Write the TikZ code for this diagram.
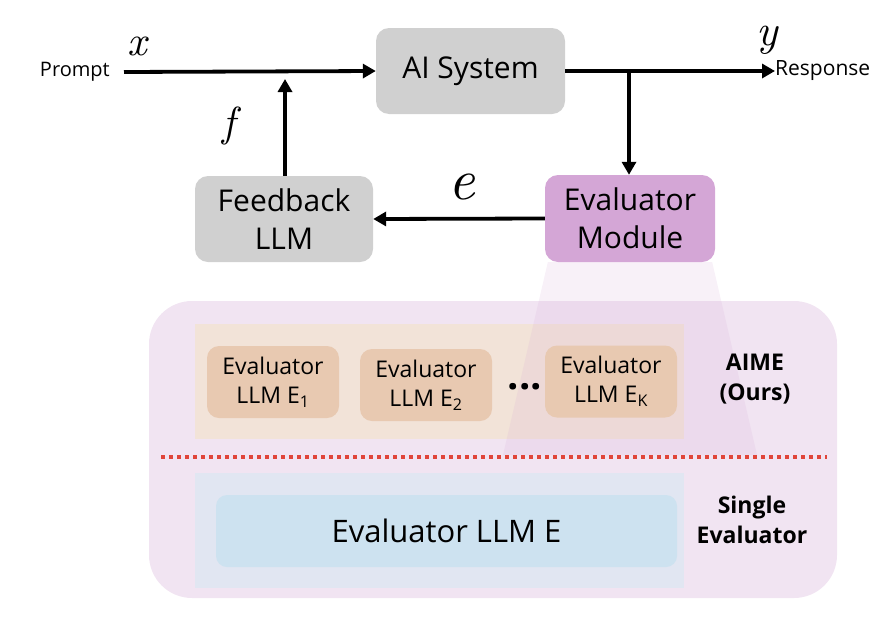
\documentclass[tikz,border=0pt]{standalone}
\usepackage{fontspec}
\setmainfont{Open Sans}
\newfontfamily\lmit{lmroman10-italic.otf}
\usetikzlibrary{arrows.meta}
\definecolor{boxgray}{HTML}{D0D0D0}
\definecolor{evalpurple}{HTML}{D4A6D6}
\definecolor{panelpink}{HTML}{F1E4F2}
\definecolor{aimeback}{HTML}{F2E3D8}
\definecolor{aimebox}{HTML}{E8C9B1}
\definecolor{singleback}{HTML}{E1E6F2}
\definecolor{singlebox}{HTML}{CDE2F0}
\definecolor{dashred}{HTML}{E0453A}
\begin{document}
\begin{tikzpicture}[x=1pt, y=-1pt, >={Triangle[length=13pt,width=14pt]},
  flow/.style={line width=3.8pt, ->},
  mainbox/.style={rounded corners=13pt, align=center, inner sep=0pt, font=\fontsize{30}{38}\selectfont},
  evalbox/.style={fill=aimebox, rounded corners=12pt, align=center, inner sep=0pt, minimum width=132pt, minimum height=72pt, font=\fontsize{23}{29}\selectfont},
  sidelabel/.style={align=center, font=\fontsize{23}{30}\selectfont\bfseries},
  mathlabel/.style={inner sep=0pt}]
\useasboundingbox (0,0) rectangle (882,616);
\node[mainbox, fill=boxgray, minimum width=189pt, minimum height=86pt] (ai) at (470.5,71) {AI System};
\node[mainbox, fill=boxgray, minimum width=178pt, minimum height=86pt] (fb) at (284,219) {Feedback\\LLM};
\node[mainbox, fill=evalpurple, minimum width=170pt, minimum height=87pt] (ev) at (630,218.5) {Evaluator\\Module};
\node[font=\fontsize{20}{22}\selectfont, anchor=east, inner sep=0pt] (prompt) at (110,72) {Prompt};
\node[font=\fontsize{21}{22}\selectfont, anchor=west, inner sep=0pt] (resp) at (775,71) {Response};
\node[mathlabel, font=\fontsize{42}{44}\lmit] (xl) at (137,46) {x};
\node[mathlabel, font=\fontsize{44}{46}\lmit] (yl) at (767,40) {y};
\node[mathlabel, font=\fontsize{42}{44}\lmit] (fl) at (229,126) {f};
\node[mathlabel, font=\fontsize{58}{60}\lmit] (el) at (462,187) {e};
\coordinate (split) at (629,71);
\coordinate (fin) at (285,79);
\draw[flow] ([xshift=14pt]prompt.east) -- (ai.west);
\draw[flow] (ai.east) -- (resp.west);
\draw[flow] (split) -- (split |- ev.north);
\draw[flow] (ev.west) -- (fb.east);
\draw[flow] (fin |- fb.north) -- (fin);
\node[fill=panelpink, rounded corners=43pt, minimum width=688pt, minimum height=297pt, inner sep=0pt] (panel) at (493,449.5) {};
\node[fill=aimeback, minimum width=489pt, minimum height=115pt, inner sep=0pt] (aime) at (439.5,381.5) {};
\node[fill=singleback, minimum width=489pt, minimum height=115pt, inner sep=0pt] (single) at (439.5,530.5) {};
\fill[evalpurple, opacity=0.16] ([xshift=3pt]ev.south west) -- ([xshift=-3pt]ev.south east) -- (757,455) -- (503,455) -- cycle;
\draw[dashred, line width=3.5pt, dash pattern=on 4pt off 4pt] (161,457) -- (827,457);
\node[evalbox] (e1) at (273,382) {Evaluator\\LLM E\textsubscript{1}};
\node[evalbox] (e2) at (426,385) {Evaluator\\LLM E\textsubscript{2}};
\node[evalbox] (ek) at (611,381.5) {Evaluator\\LLM E\textsubscript{K}};
\node[font=\fontsize{40}{40}\selectfont\bfseries, anchor=base] (dots) at (525,389) {...};
\node[fill=singlebox, rounded corners=11pt, minimum width=461pt, minimum height=72pt, inner sep=0pt, font=\fontsize{31}{32}\selectfont] (esingle) at (446.5,531) {Evaluator LLM E};
\node[sidelabel] (aimel) at (755,379) {AIME\\(Ours)};
\node[sidelabel] (singlel) at (752,520) {Single\\Evaluator};
\end{tikzpicture}
\end{document}
